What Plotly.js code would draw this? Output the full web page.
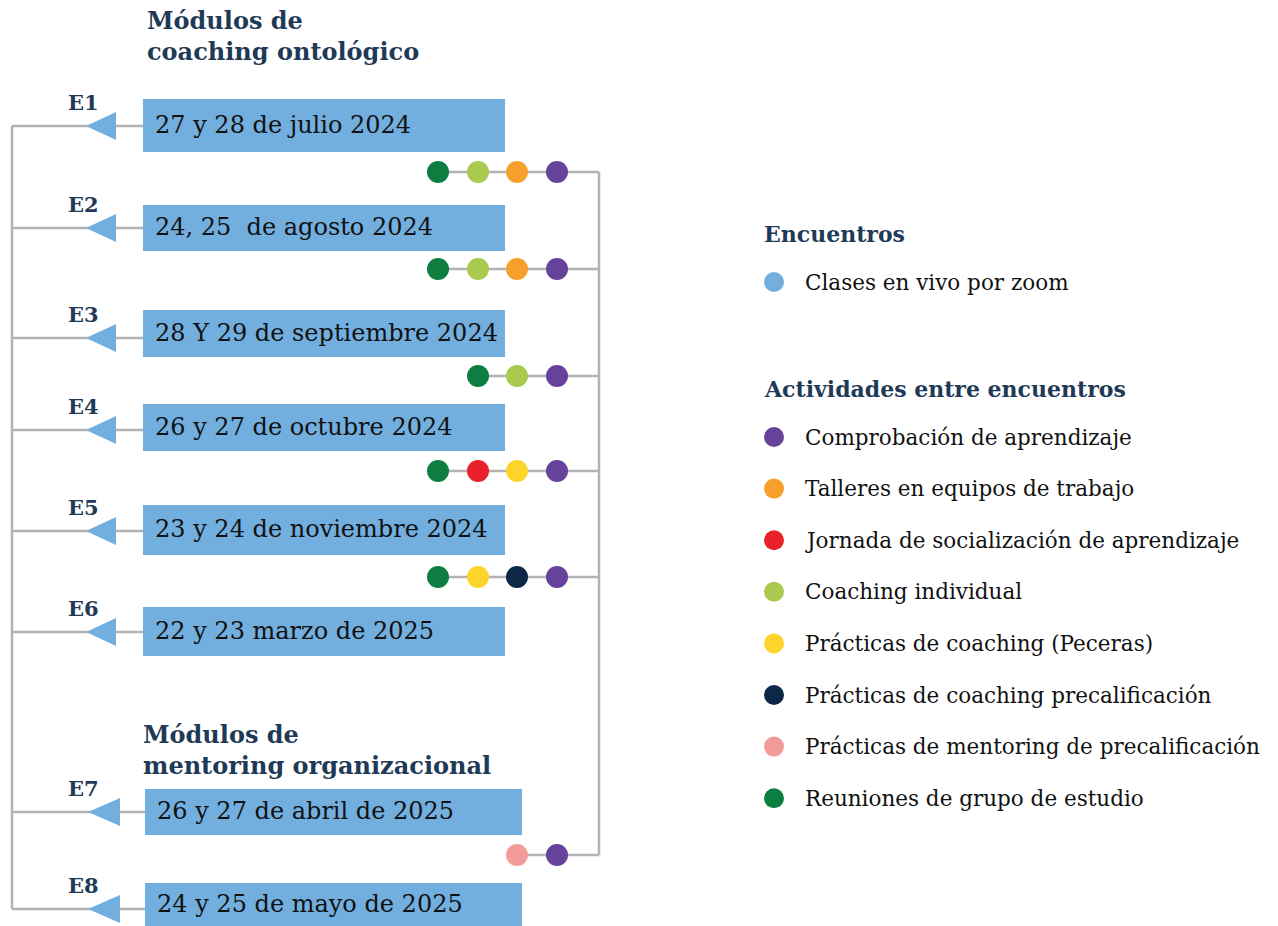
<!DOCTYPE html>
<html><head><meta charset="utf-8">
<script src="https://cdn.plot.ly/plotly-3.0.1.min.js"></script>
<style>html,body{margin:0;padding:0;background:#fff;}#chart{width:1278px;height:926px;}</style>
</head><body><div id="chart"></div>
<script>
// ---- data ----
const encuentros = ["E1","E2","E3","E4","E5","E6","E7","E8"];
const fechas = ["27 y 28 de julio 2024","24, 25  de agosto 2024","28 Y 29 de septiembre 2024","26 y 27 de octubre 2024","23 y 24 de noviembre 2024","22 y 23 marzo de 2025","26 y 27 de abril de 2025","24 y 25 de mayo de 2025"];
const modulos = ["Módulos de<br>coaching ontológico","Módulos de<br>mentoring organizacional"];
// activities between encuentros (one list per gap)
const actividadesGap = [
  ["Reuniones","Coaching","Talleres","Comprobacion"],
  ["Reuniones","Coaching","Talleres","Comprobacion"],
  ["Reuniones","Coaching","Comprobacion"],
  ["Reuniones","Jornada","Peceras","Comprobacion"],
  ["Reuniones","Peceras","Precalif","Comprobacion"],
  ["Mentoring","Comprobacion"]
];
const actKeys = ["Comprobacion","Talleres","Jornada","Coaching","Peceras","Precalif","Mentoring","Reuniones"];
const actNombres = ["Comprobación de aprendizaje","Talleres en equipos de trabajo","Jornada de socialización de aprendizaje","Coaching individual","Prácticas de coaching (Peceras)","Prácticas de coaching precalificación","Prácticas de mentoring de precalificación","Reuniones de grupo de estudio"];
const actColores = ["#66439a","#f6a02b","#e8212b","#a9c94f","#fdd52a","#0d2747","#f39b99","#0d7e40"];
const encuentroLeyenda = "Clases en vivo por zoom";

// ---- geometry (layout only) ----
const rowY = [126,228,338,430,531,632,812,909];
const boxTop = [99,205,310,404,505,607,789,883];
const boxBot = [152,251,357,451,555,656,835,926];
const boxX0 = [143,143,143,143,143,143,145,145];
const boxX1 = [505,505,505,505,505,505,522,522];
const gapY = [172,269,376,471,577,855];
const dotX = [438,478,517,557];
const rightX = 599, leftX = 12;
const modTitleY = [36,750];
const modTitleX = [145,141];

const BLUE = "#72afdf", GRAY = "#b3b3b3", NAVY = "#1f3a56";
const FONT = "DejaVu Serif";

const shapes = [];
const annotations = [];
const traces = [];

shapes.push({type:"line",x0:leftX,x1:leftX,y0:rowY[0],y1:rowY[rowY.length-1],line:{color:GRAY,width:2.5}});
shapes.push({type:"line",x0:rightX,x1:rightX,y0:gapY[0],y1:gapY[gapY.length-1],line:{color:GRAY,width:2.5}});

encuentros.forEach((e,i)=>{
  const y=rowY[i];
  shapes.push({type:"line",x0:leftX,x1:boxX0[i],y0:y,y1:y,line:{color:GRAY,width:2.5}});
  shapes.push({type:"rect",x0:boxX0[i],x1:boxX1[i],y0:boxTop[i],y1:boxBot[i],fillcolor:BLUE,line:{width:0}});
  const tx = i>=6?88:86, bx = i>=6?120:116;
  shapes.push({type:"path",path:`M ${tx} ${y} L ${bx} ${y-14} L ${bx} ${y+14} Z`,fillcolor:BLUE,line:{width:0}});
  annotations.push({x:83,y:y-24,text:"<b>"+e+"</b>",showarrow:false,xanchor:"center",yanchor:"middle",font:{family:FONT,size:21,color:NAVY}});
  annotations.push({x:boxX0[i]+10,y:(boxTop[i]+boxBot[i])/2-1,text:fechas[i],showarrow:false,xanchor:"left",yanchor:"middle",font:{family:FONT,size:24,color:"#111"}});
});

modulos.forEach((m,k)=>{
  annotations.push({x:modTitleX[k],y:modTitleY[k],text:"<b>"+m+"</b>",showarrow:false,xanchor:"left",yanchor:"middle",align:"left",font:{family:FONT,size:24,color:NAVY}});
});

actividadesGap.forEach((acts,g)=>{
  const y=gapY[g];
  const xs = dotX.slice(dotX.length-acts.length);
  shapes.push({type:"line",x0:xs[0],x1:rightX,y0:y,y1:y,line:{color:GRAY,width:2.5},layer:"below"});
  traces.push({type:"scatter",mode:"markers",x:xs,y:acts.map(()=>y),
    marker:{size:22,color:acts.map(a=>actColores[actKeys.indexOf(a)]),line:{width:0}},hoverinfo:"skip",showlegend:false});
});

const legX = 774, legTextX = 803;
annotations.push({x:762,y:234,text:"<b>Encuentros</b>",showarrow:false,xanchor:"left",yanchor:"middle",font:{family:FONT,size:22,color:NAVY}});
traces.push({type:"scatter",mode:"markers",x:[legX],y:[282],marker:{size:20,color:BLUE},hoverinfo:"skip",showlegend:false});
annotations.push({x:legTextX,y:282,text:encuentroLeyenda,showarrow:false,xanchor:"left",yanchor:"middle",font:{family:FONT,size:21.5,color:"#111"}});
annotations.push({x:762,y:389,text:"<b>Actividades entre encuentros</b>",showarrow:false,xanchor:"left",yanchor:"middle",font:{family:FONT,size:22,color:NAVY}});
const legY0 = 437, legDY = 51.6;
traces.push({type:"scatter",mode:"markers",x:actNombres.map(()=>legX),y:actNombres.map((_,i)=>legY0+i*legDY),
  marker:{size:20,color:actColores},hoverinfo:"skip",showlegend:false});
actNombres.forEach((n,i)=>{
  annotations.push({x:legTextX,y:legY0+i*legDY,text:n,showarrow:false,xanchor:"left",yanchor:"middle",font:{family:FONT,size:21.5,color:"#111"}});
});

const layout = {
  width:1278,height:926,margin:{l:0,r:0,t:0,b:0},
  paper_bgcolor:"#fff",plot_bgcolor:"#fff",
  xaxis:{range:[0,1278],visible:false,fixedrange:true},
  yaxis:{range:[926,0],visible:false,fixedrange:true},
  shapes:shapes,annotations:annotations,showlegend:false
};
Plotly.newPlot("chart",traces,layout,{displayModeBar:false,staticPlot:true});
</script></body></html>
